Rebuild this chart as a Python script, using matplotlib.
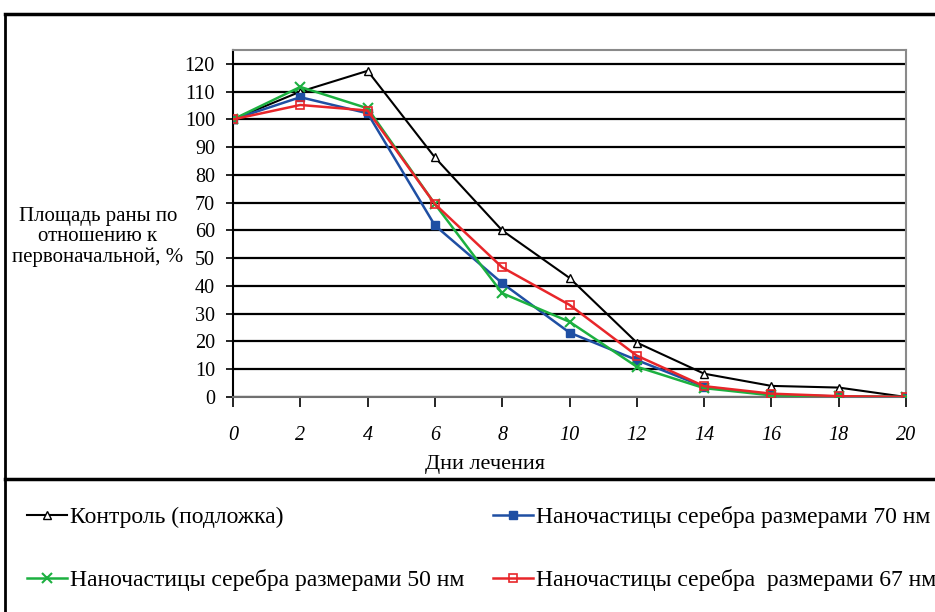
import matplotlib
matplotlib.use("Agg")
import matplotlib.pyplot as plt
from matplotlib.lines import Line2D

days = [0, 2, 4, 6, 8, 10, 12, 14, 16, 18, 20]
control = [100, 110, 117.5, 86.3, 60, 42.9, 19.6, 8.4, 4.0, 3.4, 0]
np70 = [100, 108, 102.2, 61.8, 41, 23.2, 13.3, 3.7, 0.8, 0.2, 0]
np50 = [100, 111.7, 104, 69.5, 37.4, 27.1, 10.9, 3.2, 0.6, 0.2, 0]
np67 = [100, 105.2, 103.2, 69.5, 46.7, 33.2, 14.9, 3.9, 1.2, 0.3, 0]

labels = ["Контроль (подложка)",
          "Наночастицы серебра размерами 70 нм",
          "Наночастицы серебра размерами 50 нм",
          "Наночастицы серебра  размерами 67 нм"]
yticks = list(range(0, 121, 10))
xticks = list(range(0, 21, 2))

plt.rcParams['font.family'] = ['Liberation Serif', 'DejaVu Serif']

W, H = 935, 612
fig = plt.figure(figsize=(W / 100, H / 100), dpi=100)
ax = fig.add_axes([233 / W, 1 - 397 / H, 673 / W, 347 / H])

ax.set_xlim(0, 20)
ax.set_ylim(0, 125)
for y in yticks:
    ax.axhline(y, color='black', lw=1.6, zorder=1)

h_c, = ax.plot(days, control, color='black', lw=1.5, marker='^', ms=6,
               mfc='white', mec='black', mew=1.0, label=labels[0], zorder=3)
h_70, = ax.plot(days, np70, color='#1f4fa3', lw=1.8, marker='s', ms=6,
                mfc='#1f4fa3', mec='#1f4fa3', label=labels[1], zorder=4)
h_50, = ax.plot(days, np50, color='#1cb040', lw=1.8, marker='x', ms=7,
                mew=1.5, label=labels[2], zorder=4)
h_67, = ax.plot(days, np67, color='#e8262a', lw=1.8, marker='s', ms=6,
                mfc='none', mec='#e8262a', mew=1.2, label=labels[3], zorder=5)

for s in ['top', 'right']:
    ax.spines[s].set_color('#8a8a8a')
    ax.spines[s].set_linewidth(1.5)
ax.spines['bottom'].set_color('#707070')
ax.spines['bottom'].set_linewidth(1.5)
ax.spines['left'].set_color('black')
ax.spines['left'].set_linewidth(1.5)

ax.set_yticks(yticks)
ax.set_yticklabels([str(v) for v in yticks], fontsize=14.5)
ax.set_xticks(xticks)
ax.set_xticklabels([str(v) for v in xticks], fontsize=14.5, style='italic')
ax.tick_params(axis='y', direction='out', length=5, width=1.2, pad=8)
ax.tick_params(axis='x', direction='out', length=7, width=1.2, pad=14)

fig.text(485 / W, 1 - 465 / H, "Дни лечения", ha='center', va='center',
         fontsize=16)
fig.text(98 / W, 1 - 237 / H, "Площадь раны по\nотношению к\nпервоначальной, %",
         ha='center', va='center', fontsize=15, linespacing=1.07)

# outer frame
fig.add_artist(Line2D([5 / W, 1], [1 - 14 / H, 1 - 14 / H], color='black', lw=2.5))
fig.add_artist(Line2D([5 / W, 5 / W], [0, 1 - 14 / H], color='black', lw=2))
fig.add_artist(Line2D([5 / W, 1], [1 - 479 / H, 1 - 479 / H], color='black', lw=2.5))

leg = fig.legend(handles=[h_c, h_50, h_70, h_67],
                 labels=[labels[0], labels[2], labels[1], labels[3]],
                 ncol=2, loc='upper left', bbox_to_anchor=(27 / W, 1 - 506 / H),
                 frameon=False, fontsize=17, handlelength=1.7, handletextpad=0.12,
                 labelspacing=1.75, columnspacing=1.2, numpoints=1,
                 borderaxespad=0, borderpad=0)

fig.savefig("out.png", dpi=100)
